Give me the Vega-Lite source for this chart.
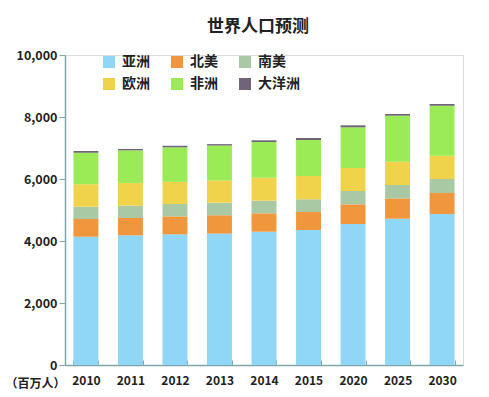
{
  "$schema": "https://vega.github.io/schema/vega-lite/v6.json",
  "width": 398,
  "height": 310,
  "autosize": {"type": "none"},
  "padding": {"left": 65, "top": 55, "right": 26, "bottom": 32},
  "background": "white",
  "title": {
    "text": "世界人口预测",
    "font": "Noto Sans CJK SC",
    "fontSize": 17,
    "fontWeight": "bold",
    "color": "#222222",
    "anchor": "middle",
    "dx": -6,
    "offset": 13
  },
  "data": {
    "values": [
      {"year": "2010", "region": "亚洲", "pop": 4139},
      {"year": "2010", "region": "北美", "pop": 571},
      {"year": "2010", "region": "南美", "pop": 396},
      {"year": "2010", "region": "欧洲", "pop": 723},
      {"year": "2010", "region": "非洲", "pop": 1019},
      {"year": "2010", "region": "大洋洲", "pop": 55},
      {"year": "2011", "region": "亚洲", "pop": 4183},
      {"year": "2011", "region": "北美", "pop": 560},
      {"year": "2011", "region": "南美", "pop": 398},
      {"year": "2011", "region": "欧洲", "pop": 732},
      {"year": "2011", "region": "非洲", "pop": 1052},
      {"year": "2011", "region": "大洋洲", "pop": 43},
      {"year": "2012", "region": "亚洲", "pop": 4216},
      {"year": "2012", "region": "北美", "pop": 578},
      {"year": "2012", "region": "南美", "pop": 400},
      {"year": "2012", "region": "欧洲", "pop": 715},
      {"year": "2012", "region": "非洲", "pop": 1113},
      {"year": "2012", "region": "大洋洲", "pop": 50},
      {"year": "2013", "region": "亚洲", "pop": 4240},
      {"year": "2013", "region": "北美", "pop": 590},
      {"year": "2013", "region": "南美", "pop": 405},
      {"year": "2013", "region": "欧洲", "pop": 720},
      {"year": "2013", "region": "非洲", "pop": 1125},
      {"year": "2013", "region": "大洋洲", "pop": 45},
      {"year": "2014", "region": "亚洲", "pop": 4300},
      {"year": "2014", "region": "北美", "pop": 593},
      {"year": "2014", "region": "南美", "pop": 407},
      {"year": "2014", "region": "欧洲", "pop": 742},
      {"year": "2014", "region": "非洲", "pop": 1152},
      {"year": "2014", "region": "大洋洲", "pop": 54},
      {"year": "2015", "region": "亚洲", "pop": 4355},
      {"year": "2015", "region": "北美", "pop": 580},
      {"year": "2015", "region": "南美", "pop": 410},
      {"year": "2015", "region": "欧洲", "pop": 752},
      {"year": "2015", "region": "非洲", "pop": 1161},
      {"year": "2015", "region": "大洋洲", "pop": 65},
      {"year": "2020", "region": "亚洲", "pop": 4548},
      {"year": "2020", "region": "北美", "pop": 635},
      {"year": "2020", "region": "南美", "pop": 430},
      {"year": "2020", "region": "欧洲", "pop": 742},
      {"year": "2020", "region": "非洲", "pop": 1313},
      {"year": "2020", "region": "大洋洲", "pop": 63},
      {"year": "2025", "region": "亚洲", "pop": 4719},
      {"year": "2025", "region": "北美", "pop": 657},
      {"year": "2025", "region": "南美", "pop": 430},
      {"year": "2025", "region": "欧洲", "pop": 752},
      {"year": "2025", "region": "非洲", "pop": 1484},
      {"year": "2025", "region": "大洋洲", "pop": 55},
      {"year": "2030", "region": "亚洲", "pop": 4871},
      {"year": "2030", "region": "北美", "pop": 677},
      {"year": "2030", "region": "南美", "pop": 452},
      {"year": "2030", "region": "欧洲", "pop": 752},
      {"year": "2030", "region": "非洲", "pop": 1613},
      {"year": "2030", "region": "大洋洲", "pop": 54}
    ]
  },
  "transform": [
    {"calculate": "indexof(['亚洲', '北美', '南美', '欧洲', '非洲', '大洋洲'], datum.region)", "as": "stackOrder"}
  ],
  "mark": {"type": "bar"},
  "encoding": {
    "x": {
      "field": "year",
      "type": "nominal",
      "sort": null,
      "scale": {"paddingInner": 0.44, "paddingOuter": 0.19},
      "axis": {
        "title": null,
        "labelAngle": 0,
        "labelFont": "Noto Sans CJK SC",
        "labelFontSize": 12,
        "labelFontWeight": "bold",
        "labelColor": "#222222",
        "labelPadding": 15,
        "tickBand": "extent",
        "tickSize": -5,
        "tickColor": "#7fa6a8",
        "domainColor": "#7fa6a8",
        "domainWidth": 1.5
      }
    },
    "y": {
      "field": "pop",
      "type": "quantitative",
      "stack": "zero",
      "scale": {"domain": [0, 10000], "nice": false},
      "axis": {
        "values": [0, 2000, 4000, 6000, 8000, 10000],
        "format": ",d",
        "grid": false,
        "title": "（百万人）",
        "titleAngle": 0,
        "titleAlign": "left",
        "titleBaseline": "middle",
        "titleX": -60,
        "titleY": 328,
        "titleFont": "Noto Sans CJK SC",
        "titleFontSize": 12,
        "titleFontWeight": "bold",
        "titleColor": "#222222",
        "labelFont": "Noto Sans CJK SC",
        "labelFontSize": 12.5,
        "labelFontWeight": "bold",
        "labelColor": "#222222",
        "labelPadding": 2,
        "tickSize": 6,
        "tickColor": "#7fa6a8",
        "domainColor": "#7fa6a8",
        "domainWidth": 1.5
      }
    },
    "color": {
      "field": "region",
      "type": "nominal",
      "scale": {
        "domain": ["亚洲", "北美", "南美", "欧洲", "非洲", "大洋洲"],
        "range": ["#8fd6f7", "#f0963c", "#a9c9a4", "#f0d34a", "#9aeb55", "#6f6478"]
      },
      "legend": {
        "title": null,
        "orient": "none",
        "legendX": 37,
        "legendY": 0,
        "columns": 3,
        "direction": "horizontal",
        "symbolType": "square",
        "symbolSize": 144,
        "symbolStrokeWidth": 0,
        "labelFont": "Noto Sans CJK SC",
        "labelFontSize": 14,
        "labelFontWeight": "bold",
        "labelColor": "#222222",
        "labelOffset": 6,
        "columnPadding": 20,
        "rowPadding": 8,
        "labelLimit": 60
      }
    },
    "order": {"field": "stackOrder", "type": "quantitative", "sort": "ascending"}
  }
}
